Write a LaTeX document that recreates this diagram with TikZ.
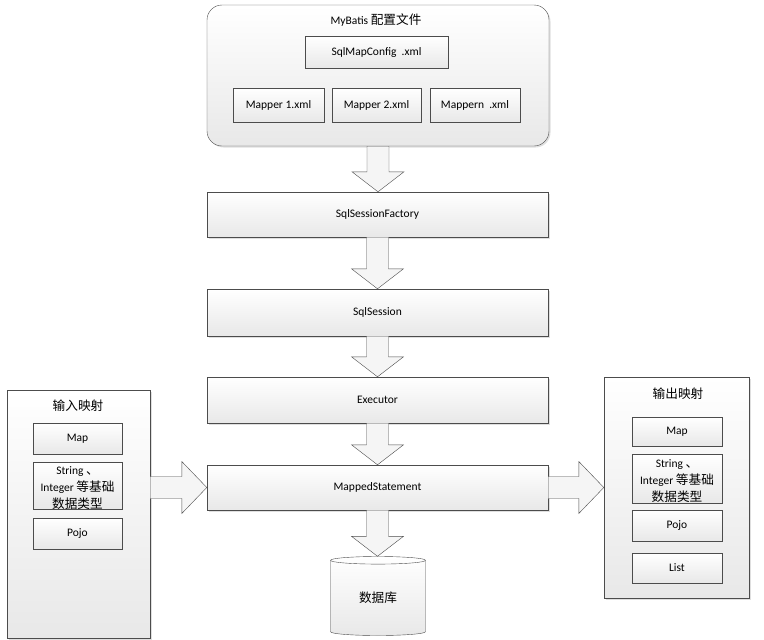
\documentclass[tikz,border=0pt]{standalone}
\usepackage{fontspec}
\setmainfont{Carlito}
\newfontfamily\cjk[Scale=1.1]{Noto Sans CJK SC}
\usetikzlibrary{calc,shapes.geometric,shadows}

\newcommand{\blockdown}[2]{%
	\draw[blockarrow] let \p1=(#1), \p2=(#2) in
		(\x1-11pt,\y1) -- (\x1-11pt,\y2+20pt) -- (\x1-26pt,\y2+20pt) -- (\x1,\y2)
		-- (\x1+26pt,\y2+20pt) -- (\x1+11pt,\y2+20pt) -- (\x1+11pt,\y1) -- cycle;}
\newcommand{\blockright}[2]{%
	\draw[blockarrow] let \p1=(#1), \p2=(#2) in
		(\x1,\y2-11pt) -- (\x2-25pt,\y2-11pt) -- (\x2-25pt,\y2-26pt) -- (\x2,\y2)
		-- (\x2-25pt,\y2+26pt) -- (\x2-25pt,\y2+11pt) -- (\x1,\y2+11pt) -- cycle;}

\begin{document}
\begin{tikzpicture}[x=1pt,y=-1pt,
		every node/.style={font=\fontsize{11.5}{17}\selectfont},
		shade/.style={draw=black!70, top color=white, bottom color=black!9},
		shadowed/.style={drop shadow={shadow xshift=1.5pt,shadow yshift=-1.5pt,opacity=0.25}},
		stepbox/.style={shade, shadowed, inner sep=0, minimum width=341, minimum height=45},
		itembox/.style={shade, inner sep=0, minimum width=90, minimum height=31},
		mapbox/.style={shade, shadowed, inner sep=0, minimum width=143},
		blockarrow/.style={draw=black!70, fill=black!4}]
		\useasboundingbox (0,0) rectangle (764,640);

		\node[shade, shadowed, rounded corners=15, inner sep=0, minimum width=342, minimum height=141] (conf) at (378,75.5) {};
		\node (conftitle) at (376,20) {MyBatis \cjk{配置文件}};
		\node[itembox, minimum width=143, minimum height=32] (sqlmap) at (376.5,52) {SqlMapConfig\ \ .xml};
		\node[itembox, minimum width=91, minimum height=34] (mapper1) at (278.5,105) {Mapper 1.xml};
		\node[itembox, minimum width=89, minimum height=34] (mapper2) at (376.5,105) {Mapper 2.xml};
		\node[itembox, minimum width=90, minimum height=34] (mappern) at (475,105) {Mappern\ \ .xml};

		\node[stepbox] (fact) at (377.5,214.5) {SqlSessionFactory};
		\node[stepbox, minimum height=47] (sess) at (377.5,312.5) {SqlSession};
		\node[stepbox, minimum height=46] (exec) at (377.5,400) {Executor};
		\node[stepbox] (ms) at (377.5,487.5) {MappedStatement};

		\node[cylinder, shape border rotate=90, draw=black!70, top color=white, bottom color=black!9,
			aspect=0.2, minimum width=95, minimum height=79, inner sep=0] (db) at (378,598) {\cjk{数据库}};

		\node[mapbox, minimum height=248] (inbox) at (78.5,514) {};
		\node (intitle) at (78,406) {\cjk{输入映射}};
		\node[itembox, minimum width=89] (inmap) at (77.5,438.5) {Map};
		\node[itembox, minimum width=89, minimum height=47] (inbase) at (77.5,485.5) {};
		\node[align=center, inner sep=0] (inbasetext) at (77.5,488) {String \cjk{、}\\Integer \cjk{等基础}\\\cjk{数据类型}};
		\node[itembox, minimum width=89] (inpojo) at (77.5,533.5) {Pojo};

		\node[mapbox, minimum width=145, minimum height=221] (outbox) at (676.5,487.5) {};
		\node (outtitle) at (678,394) {\cjk{输出映射}};
		\node[itembox, minimum height=29] (outmap) at (677,431.5) {Map};
		\node[itembox, minimum height=49] (outbase) at (677,478.5) {};
		\node[align=center, inner sep=0] (outbasetext) at (677,481) {String \cjk{、}\\Integer \cjk{等基础}\\\cjk{数据类型}};
		\node[itembox] (outpojo) at (677,525.5) {Pojo};
		\node[itembox, minimum height=30] (outlist) at (677,568) {List};

		\blockdown{conf.south}{fact.north}
		\blockdown{fact.south}{sess.north}
		\blockdown{sess.south}{exec.north}
		\blockdown{exec.south}{ms.north}
		\blockdown{ms.south}{db.north}
		\blockright{inbox.east}{ms.west}
		\blockright{ms.east}{outbox.west}
	\end{tikzpicture}
\end{document}
